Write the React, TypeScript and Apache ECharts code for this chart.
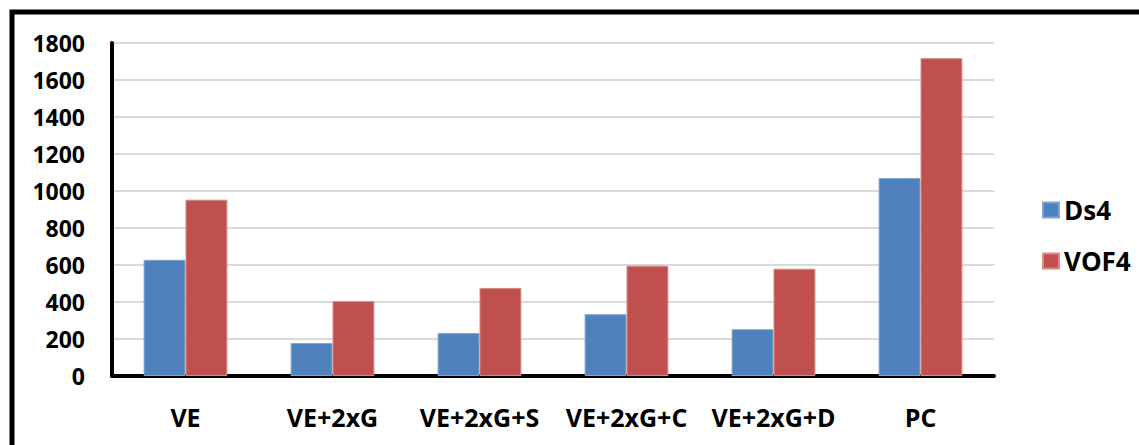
import React, { useEffect, useRef } from "react";
import * as echarts from "echarts";

const categories = ["VE", "VE+2xG", "VE+2xG+S", "VE+2xG+C", "VE+2xG+D", "PC"];
const ds4 = [628, 178, 232, 334, 253, 1070];
const vof4 = [953, 405, 476, 596, 580, 1718];
const seriesNames = ["Ds4", "VOF4"];

export default function App() {
  const ref = useRef<HTMLDivElement>(null);
  useEffect(() => {
    const chart = echarts.init(ref.current!, null, { renderer: "svg" });
    const font = "'Open Sans', 'Liberation Sans', sans-serif";
    chart.setOption({
      animation: false,
      backgroundColor: "#ffffff",
      grid: { left: 112, right: 145, top: 43, bottom: 69, containLabel: false },
      legend: {
        orient: "vertical",
        left: 1037,
        top: 192,
        itemWidth: 16,
        itemHeight: 15,
        itemGap: 25,
        icon: "rect",
        textStyle: { fontFamily: font, fontWeight: "bold", fontSize: 26, color: "#000" },
        data: seriesNames,
      },
      xAxis: {
        type: "category",
        data: categories,
        axisLine: { show: true, lineStyle: { color: "#000", width: 4 } },
        axisTick: { show: false },
        axisLabel: { fontFamily: font, fontWeight: "bold", fontSize: 25, color: "#000", margin: 28, interval: 0 },
      },
      yAxis: {
        type: "value",
        min: 0,
        max: 1800,
        interval: 200,
        axisLine: { show: true, lineStyle: { color: "#000", width: 4 } },
        axisTick: { show: false },
        splitLine: { lineStyle: { color: "#d9d9d9", width: 2 } },
        axisLabel: {
          fontFamily: font,
          fontWeight: "bold",
          fontSize: 23,
          color: "#000",
          margin: 27,
          formatter: (v: number) => String(v),
        },
      },
      series: [
        {
          name: seriesNames[0],
          type: "bar",
          data: ds4,
          barGap: "0%",
          barCategoryGap: "43%",
          itemStyle: { color: "#4F81BD", borderColor: "#7FA3D1", borderWidth: 1 },
        },
        {
          name: seriesNames[1],
          type: "bar",
          data: vof4,
          itemStyle: { color: "#C0504D", borderColor: "#D98A88", borderWidth: 1 },
        },
      ],
      graphic: [
        {
          type: "rect",
          silent: true,
          z: 100,
          shape: { x: 12, y: 12, width: 1300, height: 600 },
          style: { fill: "none", stroke: "#000", lineWidth: 5 },
        },
      ],
    });
    return () => chart.dispose();
  }, []);
  return <div ref={ref} style={{ position: "fixed", left: 0, top: 0, width: 1139, height: 445 }} />;
}
